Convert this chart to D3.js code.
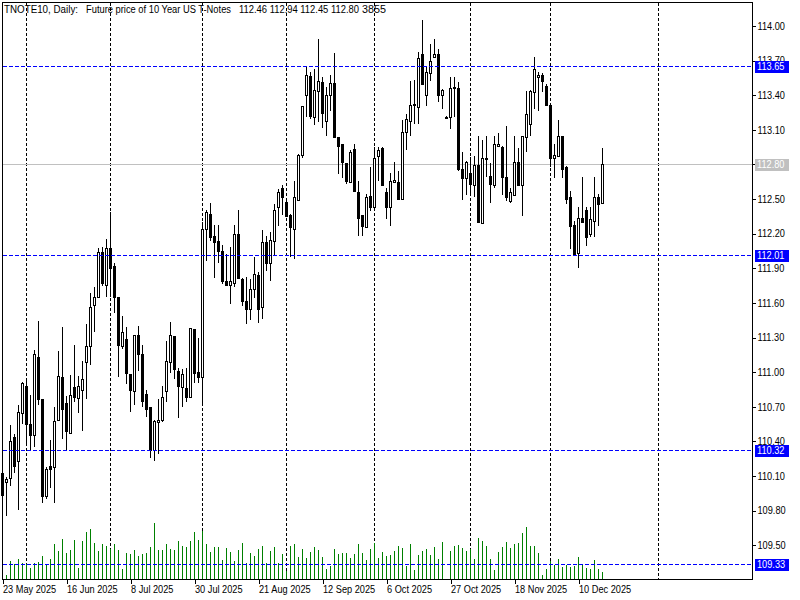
<!DOCTYPE html>
<html>
<head>
<meta charset="utf-8">
<script src="https://cdn.jsdelivr.net/npm/d3@7"></script>
<style>
  body { margin: 0; background: #fff; }
  text { font-family: "Liberation Sans", Arial, sans-serif; font-size: 10px; }
</style>
</head>
<body>
<script>
// daily bars, first one (23 May 2025) sits on the left frame
const open = [110.12,110.04,110.08,110.43,110.23,110.64,110.88,110.55,110.45,111.13,110.76,109.92,110.18,110.17,110.58,110.95,110.73,110.47,110.87,110.77,
  110.84,111.08,111.22,111.58,111.65,112.04,111.75,112.07,111.92,111.65,111.22,111.28,110.98,110.83,111.32,111.15,110.81,110.69,110.32,110.56,
  110.58,110.83,111.08,111.31,111.01,110.87,110.86,110.78,111.37,111.00,110.95,112.24,112.37,112.18,112.13,112.05,111.79,111.75,111.77,112.19,
  111.80,111.61,111.54,111.72,111.84,111.56,112.12,111.94,112.13,112.43,112.59,112.47,112.36,112.24,112.49,112.88,113.40,113.56,113.21,113.43,
  113.51,113.17,113.40,113.50,113.03,112.97,112.81,112.64,112.93,112.56,112.36,112.25,112.52,112.43,112.87,112.94,112.56,112.43,112.64,112.64,
  112.50,113.08,113.17,113.31,113.29,113.75,113.40,113.59,113.73,113.75,113.40,113.20,113.21,113.46,113.46,112.76,112.68,112.72,112.62,112.79,
  112.29,112.84,112.70,112.62,112.96,112.95,112.69,112.48,112.53,112.82,112.62,113.03,113.15,113.42,113.55,113.57,113.48,113.31,112.85,112.87,
  113.04,112.77,112.51,112.27,112.03,112.33,112.40,112.19,112.31,112.51,112.46];
const high = [110.13,110.09,110.54,110.46,110.71,110.91,110.92,110.80,111.19,111.44,110.76,110.17,110.41,110.69,111.18,111.39,110.79,110.97,111.23,110.96,
  111.09,111.41,111.68,111.73,112.07,112.08,112.15,112.38,111.94,111.65,111.48,111.39,110.98,111.32,111.40,111.23,110.84,110.69,110.58,110.76,
  110.88,111.27,111.43,111.31,111.03,111.02,111.03,111.38,111.37,111.29,112.30,112.40,112.46,112.27,112.27,112.10,112.02,112.08,112.27,112.40,
  111.81,111.82,111.80,111.99,111.86,112.23,112.18,112.21,112.45,112.58,112.62,112.48,112.37,112.65,112.89,113.30,113.65,113.60,113.62,113.88,
  113.55,113.47,113.57,113.76,113.03,112.97,112.81,112.92,112.97,112.65,112.36,112.54,112.77,112.95,112.95,112.95,112.59,112.72,112.82,112.74,
  113.18,113.23,113.52,113.53,113.77,114.05,113.64,113.84,113.88,113.80,113.45,113.22,113.55,113.55,113.51,112.90,112.83,112.86,112.87,113.04,
  113.01,113.04,112.81,113.04,113.07,112.96,113.13,112.59,113.04,112.94,113.04,113.43,113.44,113.73,113.60,113.59,113.49,113.31,112.97,113.18,
  113.04,112.78,112.57,112.31,112.43,112.69,112.43,112.43,112.69,112.54,112.94];
const low = [109.92,109.75,110.01,110.12,109.80,110.55,110.38,110.32,110.35,110.71,109.86,109.90,109.99,109.86,110.57,110.42,110.32,110.47,110.74,110.64,
  110.49,110.76,111.06,111.34,111.64,111.74,111.65,111.65,111.51,110.95,111.20,110.89,110.65,110.71,111.01,110.69,110.61,110.25,110.23,110.29,
  110.56,110.74,110.99,110.94,110.60,110.69,110.74,110.78,110.90,110.90,110.73,111.96,112.13,111.81,111.94,111.76,111.75,111.59,111.73,111.81,
  111.57,111.41,111.45,111.64,111.42,111.46,111.87,111.79,112.01,112.26,112.36,112.34,111.99,111.98,112.48,112.85,113.21,113.19,113.14,113.16,
  113.11,113.04,113.26,113.03,112.71,112.68,112.63,112.64,112.57,112.18,112.18,112.25,112.39,112.43,112.65,112.62,112.32,112.26,112.64,112.50,
  112.50,112.92,113.04,113.15,113.15,113.49,113.30,113.52,113.73,113.34,113.28,113.19,113.10,113.21,112.74,112.49,112.53,112.53,112.51,112.29,
  112.29,112.69,112.46,112.59,112.95,112.53,112.48,112.46,112.52,112.62,112.35,112.90,113.04,113.28,113.26,113.42,113.30,112.77,112.68,112.87,
  112.68,112.45,112.06,112.01,111.90,112.29,112.09,112.17,112.17,112.26,112.45];
const close = [109.93,110.07,110.40,110.18,110.65,110.90,110.55,110.45,111.15,110.76,109.92,110.16,110.16,110.57,110.96,110.68,110.49,110.80,110.78,110.88,
  110.94,111.22,111.56,111.65,112.04,111.77,112.07,111.90,111.65,111.23,111.34,110.99,110.84,111.32,111.15,110.75,110.68,110.32,110.57,110.58,
  110.78,111.09,111.32,111.02,110.88,110.98,110.78,111.38,110.99,110.95,112.24,112.38,112.17,112.12,112.05,111.79,111.75,111.79,112.19,111.81,
  111.61,111.54,111.72,111.85,111.54,112.12,111.94,112.14,112.40,112.56,112.51,112.35,112.25,112.51,112.88,113.30,113.57,113.22,113.44,113.52,
  113.24,113.40,113.50,113.03,112.96,112.82,112.65,112.90,112.57,112.33,112.26,112.51,112.43,112.85,112.92,112.62,112.43,112.65,112.66,112.50,
  113.08,113.19,113.31,113.32,113.72,113.49,113.60,113.69,113.75,113.40,113.44,113.21,113.46,113.47,112.76,112.68,112.82,112.63,112.79,112.30,
  112.85,112.85,112.63,112.97,112.97,112.69,112.51,112.56,112.82,112.62,113.04,113.23,113.43,113.62,113.57,113.52,113.31,112.85,112.88,113.04,
  112.76,112.50,112.26,112.02,112.33,112.30,112.17,112.32,112.51,112.45,112.80];
const volume = [6000,2750,10450,8640,11550,9350,8640,6600,9350,9900,13200,8640,11550,19800,15950,22550,14850,16500,22000,6600,
  21450,26400,28050,20350,15950,19800,18700,17050,19800,16500,6050,14850,14300,16500,13200,14300,14850,18150,31350,16500,
  16500,19800,17050,16500,21450,18700,18150,21450,26400,22000,26950,19800,15400,18150,18150,11000,17600,15400,10450,16500,
  20350,9350,14850,13200,17050,18700,9350,15950,18150,9350,14300,4950,18700,19800,12650,17050,12100,15400,18150,16500,
  12650,6050,7700,17050,14300,14850,14850,12100,14300,19800,14850,11000,17050,20350,12100,15400,13200,13750,15950,18700,
  17600,7700,19800,5500,13750,15950,17050,13750,18150,11550,20900,280,15950,18700,19250,17600,15950,17050,11550,23100,
  21450,18700,11550,5500,15400,18150,20900,17600,19800,20350,25850,29150,18700,18700,14850,2750,6050,10450,8250,11550,
  7150,8250,7150,7700,12650,8800,6600,6050,11000,6050,3855];

const dateLabels = ["23 May 2025", "16 Jun 2025", "8 Jul 2025", "30 Jul 2025", "21 Aug 2025",
  "12 Sep 2025", "6 Oct 2025", "27 Oct 2025", "18 Nov 2025", "10 Dec 2025"];
const dateIdx = [0, 16, 32, 48, 64, 80, 96, 112, 128, 144];
const monthIdx = [6, 27, 50, 71, 93, 117, 137, 164];   // first bar of each month
const priceTicks = [109.5, 109.8, 110.1, 110.4, 110.7, 111.0, 111.3, 111.6, 111.9,
  112.2, 112.5, 112.8, 113.1, 113.4, 113.7, 114.0];
const levels = [113.65, 112.01, 110.32, 109.33];
const lastPrice = 112.80;

const W = 800, H = 600;
const plotL = 2.5, plotR = 752.5, plotT = 2.5, plotB = 579.5;

const svg = d3.select("body").append("svg")
    .attr("width", W)
    .attr("height", H)
    .style("shape-rendering", "crispEdges");

const x = d3.scaleLinear().domain([0, 150]).range([2.5, 602.5]);
const y = d3.scaleLinear().domain([109.5, 114]).range([544.8, 25.5]);
const yv = d3.scaleLinear().domain([0, 33000]).range([plotB, plotB - 60]);

const bars = d3.range(open.length);

// terminal font is narrower than Liberation, squeeze a bit
function narrow(sel, k) {
    sel.each(function () {
        const len = this.getComputedTextLength();
        d3.select(this).attr("textLength", len * k).attr("lengthAdjust", "spacingAndGlyphs");
    });
}

// monthly grid
svg.append("g").selectAll("line")
    .data(monthIdx)
    .join("line")
    .attr("x1", d => x(d))
    .attr("x2", d => x(d))
    .attr("y1", plotT)
    .attr("y2", plotB)
    .attr("stroke", "#000")
    .attr("stroke-dasharray", "3,2");

// last price line
svg.append("line")
    .attr("x1", plotL).attr("x2", plotR)
    .attr("y1", Math.round(y(lastPrice)) + 0.5)
    .attr("y2", Math.round(y(lastPrice)) + 0.5)
    .attr("stroke", "#c0c0c0");

// volumes
svg.append("g").selectAll("line")
    .data(bars)
    .join("line")
    .attr("x1", d => x(d))
    .attr("x2", d => x(d))
    .attr("y1", plotB)
    .attr("y2", d => yv(volume[d]))
    .attr("stroke", "#008000");

// candles
const candle = svg.append("g").selectAll("g")
    .data(bars)
    .join("g");

candle.append("line")
    .attr("x1", d => x(d))
    .attr("x2", d => x(d))
    .attr("y1", d => y(high[d]))
    .attr("y2", d => y(low[d]))
    .attr("stroke", "#000");

candle.append("rect")
    .attr("x", d => x(d) - 1)
    .attr("width", 2)
    .attr("y", d => Math.round(y(Math.max(open[d], close[d]))) + 0.5)
    .attr("height", d => Math.max(0, Math.round(y(Math.min(open[d], close[d]))) - Math.round(y(Math.max(open[d], close[d])))))
    .attr("fill", d => close[d] >= open[d] ? "#fff" : "#000")
    .attr("stroke", "#000");

// horizontal levels
svg.append("g").selectAll("line")
    .data(levels)
    .join("line")
    .attr("x1", plotL).attr("x2", plotR)
    .attr("y1", d => Math.round(y(d)) + 0.5)
    .attr("y2", d => Math.round(y(d)) + 0.5)
    .attr("stroke", "#0000ff")
    .attr("stroke-dasharray", "4,2");

// frame
svg.append("rect")
    .attr("x", plotL).attr("y", plotT)
    .attr("width", plotR - plotL).attr("height", plotB - plotT)
    .attr("fill", "none")
    .attr("stroke", "#000");

// price axis
const yAxis = svg.append("g")
    .attr("transform", `translate(${plotR},0.5)`)
    .call(d3.axisRight(y).tickValues(priceTicks).tickSize(3).tickPadding(2).tickFormat(d3.format(".2f")));
yAxis.select(".domain").remove();
yAxis.selectAll("text").style("font-size", "10px").attr("fill", "#000").call(narrow, 0.92);
yAxis.selectAll("line").attr("stroke", "#000");

// price tags
const tags = levels.map(v => ({ v: v, c: "#0000ff" })).concat([{ v: lastPrice, c: "#c0c0c0" }]);
const tag = svg.append("g").selectAll("g")
    .data(tags)
    .join("g")
    .attr("transform", d => `translate(755,${Math.round(y(d.v))})`);
tag.append("rect")
    .attr("x", 0).attr("y", -5.5)
    .attr("width", 34).attr("height", 12)
    .attr("fill", d => d.c);
tag.append("text")
    .attr("x", 2).attr("y", 4)
    .attr("fill", "#fff")
    .text(d => d.v.toFixed(2))
    .call(narrow, 0.92);

// time axis
const xAxis = svg.append("g")
    .attr("transform", `translate(0,${plotB})`)
    .call(d3.axisBottom(x).tickValues(dateIdx).tickSize(4).tickPadding(2).tickFormat((d, i) => dateLabels[i]));
xAxis.select(".domain").remove();
xAxis.selectAll("text").style("font-size", "10px").attr("text-anchor", "start").attr("x", 0).attr("fill", "#000").call(narrow, 0.92);
xAxis.selectAll("line").attr("stroke", "#000");

// header
const header = svg.append("g").attr("transform", "translate(4,13)");
const headParts = [
    { t: "TNOTE10, Daily:", x: 0, w: 74 },
    { t: "Future price of 10 Year US T-Notes", x: 82, w: 145 },
    { t: "112.46 112.94 112.45 112.80", x: 235, w: 120 },
    { t: "3855", x: 358, w: 24 }
];
header.selectAll("text")
    .data(headParts)
    .join("text")
    .attr("x", d => d.x)
    .attr("textLength", d => d.w)
    .attr("lengthAdjust", "spacingAndGlyphs")
    .text(d => d.t);
</script>
</body>
</html>
